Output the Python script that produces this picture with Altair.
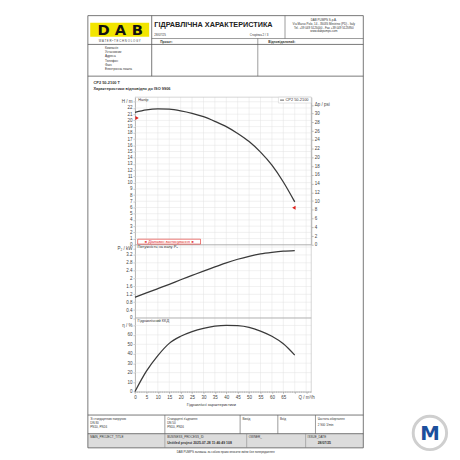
import altair as alt
import pandas as pd

# ---------------- values ----------------
flow_q = [0, 5, 10, 15, 20, 25, 30, 35, 40, 45, 50, 55, 60, 65, 70]
head_m = [21.3, 21.7, 21.85, 21.8, 21.55, 21.15, 20.6, 19.85, 19.0, 17.9, 16.6, 14.9, 12.8, 10.1, 6.9]
power_kw = [1.05, 1.27, 1.49, 1.71, 1.94, 2.16, 2.38, 2.59, 2.80, 2.98, 3.13, 3.25, 3.33, 3.39, 3.42]
eff_pct = [0, 21.5, 38, 51, 58.5, 63.5, 67, 69.3, 70.2, 69.8, 68, 64, 58.5, 50.5, 38.5]

range_q = [0.9, 69.6]
range_h = [20.4, 5.95]

q_ticks = list(range(0, 80, 5))
q_minor = list(range(0, 78))
h_ticks = list(range(0, 24))
psi_ticks = list(range(0, 34, 2))
p2_grid = [0, 0.4, 0.8, 1.2, 1.6, 2, 2.4, 2.8, 3.2, 3.6]
p2_ticks = [0, 0.4, 0.8, 1.2, 1.6, 2, 2.4, 2.8, 3.2, 3.5]
eta_ticks = [0, 10, 20, 30, 40, 50, 60, 70]

# ---------------- layout (page pixels) ----------------
M = 8
W, H = 444, 444
PX0, PX1 = 137.3, 316.7
Y_TOP, Y_12, Y_23, Y_BOT = 94.7, 245.0, 319.5, 394.3

Q_MAX = (PX1 - PX0) / (151.0 / 65.0)
H_MAX = (Y_12 - Y_TOP) / ((Y_12 - 105.7) / 22.0)
PSI_MAX = H_MAX / 0.70307
P_MAX = (Y_23 - Y_12) / ((Y_23 - 255.3) / 3.2)
ETA_MAX = (Y_BOT - Y_23) / ((Y_BOT - 336.7) / 60.0)

def p(v):
    return v - M

ONE = pd.DataFrame({"k": [0]})
DARK = "#555555"
GRID = "#e2e2e2"
RED = "#e0201b"

xscale = alt.Scale(domain=[0, Q_MAX], range=[p(PX0), p(PX1)], nice=False, zero=False)
hscale = alt.Scale(domain=[0, H_MAX], range=[p(Y_12), p(Y_TOP)], nice=False, zero=False)
psiscale = alt.Scale(domain=[0, PSI_MAX], range=[p(Y_12), p(Y_TOP)], nice=False, zero=False)
pscale = alt.Scale(domain=[0, P_MAX], range=[p(Y_23), p(Y_12)], nice=False, zero=False)
escale = alt.Scale(domain=[0, ETA_MAX], range=[p(Y_BOT), p(Y_23)], nice=False, zero=False)

xaxis = alt.Axis(values=q_ticks, orient="bottom", offset=p(Y_BOT) - H, title=None, grid=False,
                 labelOverlap=False, labelFlush=False,
                 labelExpr="datum.value == 75 ? 'Q / m³/h' : (datum.value == 70 ? '' : datum.label)")

def yaxis(ticks, expr, orient="left"):
    off = -p(PX0) if orient == "left" else p(PX1) - W
    return alt.Axis(values=ticks, orient=orient, offset=off, title=None, grid=False,
                    labelOverlap=False, labelFlush=False, labelExpr=expr)

def X(field):
    return alt.X(field, scale=xscale, axis=xaxis)

# ---------------- decoration helpers ----------------
def text(t, x, y, size=3.3, weight="normal", align="left", color="#333333", font="Liberation Sans"):
    return alt.Chart(ONE).mark_text(text=t, fontSize=size, fontWeight=weight, align=align,
                                    baseline="middle", color=color, font=font).encode(
        x=alt.value(p(x)), y=alt.value(p(y)))

def hline(x0, x1, y, color=DARK, w=0.8):
    return alt.Chart(ONE).mark_rule(color=color, strokeWidth=w).encode(
        x=alt.value(p(x0)), x2=alt.value(p(x1)), y=alt.value(p(y)))

def vline(x, y0, y1, color=DARK, w=0.8):
    return alt.Chart(ONE).mark_rule(color=color, strokeWidth=w).encode(
        x=alt.value(p(x)), y=alt.value(p(y0)), y2=alt.value(p(y1)))

def box(x0, x1, y0, y1, fill, stroke=None, w=0.6):
    kw = dict(fill=fill)
    if stroke:
        kw.update(stroke=stroke, strokeWidth=w)
    return alt.Chart(ONE).mark_rect(**kw).encode(
        x=alt.value(p(x0)), x2=alt.value(p(x1)), y=alt.value(p(y0)), y2=alt.value(p(y1)))

layers = []

# ---------------- grids ----------------
layers.append(alt.Chart(pd.DataFrame({"v": h_ticks})).mark_rule(color=GRID, strokeWidth=0.5).encode(
    y=alt.Y("v:Q", scale=hscale, axis=None), x=alt.value(p(PX0)), x2=alt.value(p(PX1))))
layers.append(alt.Chart(pd.DataFrame({"v": p2_grid})).mark_rule(color=GRID, strokeWidth=0.5).encode(
    y=alt.Y("v:Q", scale=pscale, axis=None), x=alt.value(p(PX0)), x2=alt.value(p(PX1))))
layers.append(alt.Chart(pd.DataFrame({"v": eta_ticks})).mark_rule(color=GRID, strokeWidth=0.5).encode(
    y=alt.Y("v:Q", scale=escale, axis=None), x=alt.value(p(PX0)), x2=alt.value(p(PX1))))
layers.append(alt.Chart(pd.DataFrame({"Q": q_ticks})).mark_rule(color=GRID, strokeWidth=0.5).encode(
    x=X("Q:Q"), y=alt.value(p(Y_TOP)), y2=alt.value(p(Y_BOT))))
layers.append(alt.Chart(pd.DataFrame({"Q": q_minor})).mark_rule(color="#999999", strokeWidth=0.4).encode(
    x=X("Q:Q"), y=alt.value(p(Y_BOT)), y2=alt.value(p(Y_BOT) + 1.5)))

# panel borders
layers += [
    hline(PX0, PX1, Y_TOP, "#bbbbbb", 0.6),
    hline(PX0, PX1, Y_12, "#999999", 0.7),
    hline(PX0, PX1, Y_23, "#999999", 0.7),
    vline(PX1, Y_TOP, Y_BOT, "#bbbbbb", 0.6),
]

# ---------------- curves and axes ----------------
curves = pd.DataFrame({"Q": flow_q, "H": head_m, "P2": power_kw, "eta": eff_pct})
rng = pd.DataFrame({"Q": range_q, "H": range_h})
LINE = dict(color="#3a3a3a", strokeWidth=1.3, interpolate="monotone")

layers.append(alt.Chart(curves).mark_line(**LINE).encode(
    x=X("Q:Q"),
    y=alt.Y("H:Q", scale=hscale, axis=yaxis(h_ticks, "datum.value == 23 ? 'H / m' : datum.label"))))
layers.append(alt.Chart(pd.DataFrame({"psi": psi_ticks})).mark_point(opacity=0).encode(
    x=alt.value(p(200)),
    y=alt.Y("psi:Q", scale=psiscale,
            axis=yaxis(psi_ticks, "datum.value == 32 ? 'Δp / psi' : datum.label", "right"))))
layers.append(alt.Chart(curves).mark_line(**LINE).encode(
    x=X("Q:Q"),
    y=alt.Y("P2:Q", scale=pscale,
            axis=yaxis(p2_ticks, "datum.value > 3.4 ? 'P₂ / kW' : format(datum.value, '~g')"))))
layers.append(alt.Chart(curves).mark_line(**LINE).encode(
    x=X("Q:Q"),
    y=alt.Y("eta:Q", scale=escale, axis=yaxis(eta_ticks, "datum.value == 70 ? 'η / %' : datum.label"))))
layers.append(alt.Chart(rng.iloc[[0]]).mark_point(shape="triangle-right", filled=True, color=RED, size=16, opacity=1).encode(
    x=X("Q:Q"), y=alt.Y("H:Q", scale=hscale, axis=None)))
layers.append(alt.Chart(rng.iloc[[1]]).mark_point(shape="triangle-left", filled=True, color=RED, size=16, opacity=1).encode(
    x=X("Q:Q"), y=alt.Y("H:Q", scale=hscale, axis=None)))

# panel labels, legend, range box
layers += [
    text("Напір", 140.5, 97.4, 4),
    box(283.3, PX1, Y_TOP, 100.7, "white", "#cccccc", 0.5),
    hline(285.0, 289.0, 97.7, "#3a3a3a", 0.8),
    text("CP2 50-2100", 290.5, 97.7, 4),
    box(140.0, 204.0, 239.3, 244.3, "white", RED, 0.6),
    text("◄ Діапазон застосування ►", 172.0, 241.8, 4, color=RED, align="center"),
    text("Потужність на валу P₂", 139.8, 247.6, 4),
    text("Гідравлічний ККД", 139.8, 322.3, 4),
    text("Гідравлічні характеристики", 215.0, 408.3, 4, align="center"),
    text("CP2 50-2100 T", 95.0, 80.0, 4, "bold"),
    text("Характеристики відповідно до ISO 9906", 95.0, 86.5, 4, "bold"),
]

# ---------------- document frame: header ----------------
FL, FR, FT, FB = 89.3, 369.7, 11.7, 451.7
layers += [
    box(FL, FR, 437.3, FB, "#dcdcdc"),
    box(91.7, 151.7, 19.0, 33.3, "#f2e500"),
    text("D", 105.3, 26.4, 15, "bold", "center", "#111111", "DejaVu Sans"),
    text("A", 122.5, 26.4, 15, "bold", "center", "#111111", "DejaVu Sans"),
    text("B", 139.7, 26.4, 15, "bold", "center", "#111111", "DejaVu Sans"),
    text("W A T E R • T E C H N O L O G Y", 121.7, 37.6, 2.9, align="center", color="#444444"),
    hline(FL, FR, FT), hline(154.3, FR, 35.0, w=0.6), hline(FL, FR, 41.0), hline(FL, FR, 73.3),
    vline(FL, FT, FB), vline(FR, FT, FB),
    vline(154.3, FT, 73.3), vline(290.0, FT, 35.0, w=0.6), vline(262.3, 35.0, 73.3, w=0.6),
    text("ГІДРАВЛІЧНА ХАРАКТЕРИСТИКА", 157.0, 21.5, 7.4, "bold", color="#222222"),
    text("28/07/25", 157.0, 31.8, 3.0),
    text("Сторінка 2 / 3", 273.0, 31.8, 3.0, align="right"),
    text("DAB PUMPS S.p.A.", 329.5, 16.0, 3.0, align="center"),
    text("Via Marco Polo, 14 - 35035 Mestrino (PD) - Italy", 329.5, 20.0, 3.0, align="center"),
    text("Tel. +39 049 5125000 - Fax +39 049 5125950", 329.5, 24.0, 3.0, align="center"),
    text("www.dabpumps.com", 329.5, 27.8, 3.0, align="center"),
    text("Проєкт:", 163.0, 38.2, 3.3, "bold"),
    text("Відповідальний:", 273.0, 38.2, 3.3, "bold"),
    text("Компанія", 106.7, 44.5, 3.2),
    text("Установник", 106.7, 48.8, 3.2),
    text("Адреса", 106.7, 53.1, 3.2),
    text("Телефон", 106.7, 57.4, 3.2),
    text("Факс", 106.7, 61.7, 3.2),
    text("Електронна пошта", 106.7, 66.0, 3.2),
]

# ---------------- footer ----------------
layers += [
    hline(FL, FR, 418.3), hline(FL, FR, 437.3), hline(FL, FR, FB),
    vline(167.7, 418.3, 437.3, w=0.6), vline(244.3, 418.3, 437.3, w=0.6),
    vline(282.7, 418.3, 437.3, w=0.6), vline(321.0, 418.3, 437.3, w=0.6),
    vline(167.7, 437.3, FB, "#888888", 0.6), vline(251.0, 437.3, FB, "#888888", 0.6),
    vline(311.0, 437.3, FB, "#888888", 0.6),
    text("Зі стандартною напругою", 91.7, 422.0, 3.1),
    text("DN 80", 91.7, 426.3, 3.1),
    text("PN10, PN16", 91.7, 430.6, 3.1),
    text("Стандартні з'єднання", 170.0, 422.0, 3.1),
    text("DN 50", 170.0, 426.3, 3.1),
    text("PN10, PN16", 170.0, 430.6, 3.1),
    text("Вихід", 246.7, 422.0, 3.1),
    text("Вхід", 285.0, 422.0, 3.1),
    text("Частота обертання", 323.3, 422.7, 3.1),
    text("2 900 1/min", 323.3, 428.3, 3.1),
    text("MAIN_PROJECT_TITLE", 91.7, 440.3, 3.1),
    text("BUSINESS_PROCESS_ID", 170.0, 440.3, 3.1),
    text("Untitled project 2025-07-28 11:46:49 108", 170.0, 446.8, 3.5, "bold"),
    text("OWNER_", 253.0, 440.3, 3.1),
    text("ISSUE_DATE", 313.0, 440.3, 3.1),
    text("28/07/25", 330.0, 446.8, 3.5, "bold", "center"),
    text("DAB PUMPS залишає за собою право вносити зміни без попередження", 229.5, 456.0, 3.0,
         align="center"),
]

# watermark badge
layers += [
    alt.Chart(ONE).mark_point(shape="circle", filled=True, fill="white", stroke="#cfcfcf",
                              strokeWidth=3, size=1156, opacity=1).encode(
        x=alt.value(p(437.5)), y=alt.value(p(436.5))),
    text("M", 437.5, 437.5, 20, "bold", "center", "#1b4f9c", "DejaVu Sans"),
]

chart = (
    alt.layer(*layers)
    .resolve_scale(y="independent")
    .resolve_axis(y="independent")
    .properties(width=W, height=H, autosize=alt.AutoSizeParams(type="none"),
                padding={"left": 0, "top": 0, "right": 8, "bottom": 8})
    .configure(font="Liberation Sans")
    .configure_view(stroke="transparent")
    .configure_axis(labelFont="Liberation Sans", labelFontSize=4.6, labelColor="#444444",
                    tickSize=2, tickWidth=0.5, tickColor="#888888",
                    domainColor="#888888", domainWidth=0.7, labelPadding=1)
)

chart.save("out.html", embed_options={"renderer": "svg", "actions": False})
